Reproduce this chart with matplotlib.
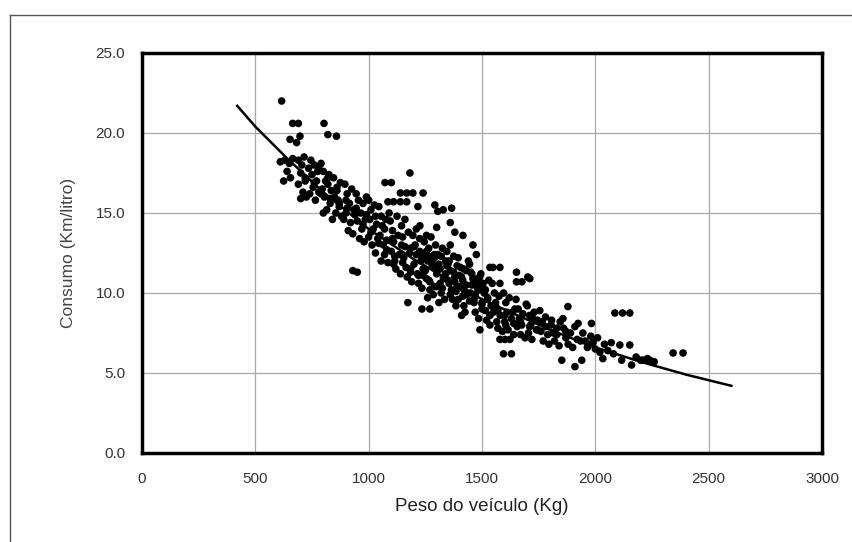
import matplotlib
matplotlib.use('Agg')
import matplotlib.pyplot as plt
from matplotlib.lines import Line2D

plt.rcParams['font.family'] = ['Liberation Sans', 'DejaVu Sans']

# Curva ajustada
curva_peso = [420, 500, 634, 800, 1000, 1200, 1500, 1800, 2000, 2200, 2400, 2600]
curva_consumo = [21.7, 20.4, 18.5, 16.3, 14.0, 12.1, 9.6, 7.7, 6.6, 5.7, 4.9, 4.2]

# Pontos observados (peso em kg, consumo em km/litro)
peso = [
    616, 665, 690, 803, 820, 858, 697, 653, 682,
    1072, 1100, 1182, 1140, 1168, 1195, 1240, 1085, 1110, 1140, 1168,
    1217, 1292, 1305, 1366, 1329, 1360, 1380, 1416, 1300, 1226, 1255,
    930, 950, 1173, 1235, 1270,
    1548, 1579, 1652, 1702, 1579, 1652, 1676, 1711, 1535,
    1879, 1807, 1857, 2086, 2120, 2152, 1924, 1983,
    1579, 1601, 1623, 1595, 1630,
    2108, 2152, 1852, 1910, 1940, 2033, 2116, 2160, 2210, 2240, 2343, 2387, 1491,
    610, 630, 650, 640, 655, 625, 665,
    690, 705, 715, 700, 720, 690, 710, 700, 725, 735,
    745, 760, 750, 770, 755, 740, 765, 780, 775, 790,
    800, 810, 795, 820, 805, 830, 815, 800, 835, 825,
    845, 860, 850, 870, 855, 840, 875, 880, 865,
    895, 905, 915, 900, 920, 910, 890, 925, 935, 930,
    945, 955, 965, 950, 970, 960, 975, 985, 980, 990,
    1000, 1010, 1005, 1020, 1000, 1015, 1030, 1025, 1035, 1040,
    1045, 1055, 1060, 1050, 1065, 1070, 1055, 1075, 1080, 1085, 1090,
    1095, 1105, 1110, 1100, 1115, 1120, 1125, 1130, 1135, 1140, 1110,
    1145, 1150, 1160, 1155, 1165, 1170, 1175, 1180, 1185, 1190, 1160,
    1195, 1205, 1210, 1200, 1215, 1220, 1225, 1230, 1235, 1240, 1210,
    1245, 1255, 1260, 1250, 1265, 1270, 1275, 1280, 1285, 1290, 1260,
    1295, 1305, 1310, 1300, 1315, 1320, 1325, 1330, 1335, 1340, 1310,
    1345, 1355, 1360, 1350, 1365, 1370, 1375, 1380, 1385, 1390, 1360,
    1395, 1405, 1410, 1400, 1415, 1420, 1425, 1430, 1435, 1440, 1410,
    1445, 1455, 1460, 1450, 1465, 1470, 1475, 1480, 1485, 1490, 1460,
    1495, 1505, 1510, 1500, 1515, 1520, 1525, 1530, 1535, 1540,
    1545, 1555, 1560, 1550, 1565, 1570, 1575, 1580, 1590,
    1595, 1605, 1610, 1600, 1615, 1620, 1630, 1640, 1645,
    1650, 1660, 1665, 1655, 1670, 1680, 1690, 1695,
    1700, 1710, 1715, 1705, 1720, 1730, 1740, 1745,
    1755, 1765, 1760, 1770, 1780, 1790, 1795,
    1805, 1815, 1820, 1830, 1840, 1845,
    1860, 1870, 1880, 1890, 1900, 1910, 1920,
    1945, 1955, 1965, 1980, 1990, 2000, 2010, 2020,
    2040, 2055, 2070, 2080,
    2180, 2200, 2230, 2260,
    # nucleo denso
    720, 760, 790, 830, 870, 905, 940, 975, 1010, 1045,
    1080, 1115, 1150, 1185, 1220, 1255, 1290, 1325, 1360, 1395,
    1430, 1465, 1500, 1535, 1570, 1605, 1640, 1675, 1710, 1745,
    780, 820, 860, 900, 945, 990, 1030, 1070, 1105, 1145,
    1185, 1225, 1265, 1300, 1340, 1380, 1420, 1455, 1490, 1525,
    1560, 1600, 1635, 1670, 1725, 1780, 1830, 1870, 1935, 1975,
    1240, 1270, 1300, 1330, 1355, 1385, 1415, 1445, 1470, 1500,
    1250, 1280, 1315, 1345, 1375, 1400, 1430, 1460, 1485, 1515,
    1200, 1230, 1265, 1290, 1320, 1350, 1390, 1420, 1450, 1480,
]
consumo = [
    22.0, 20.6, 20.6, 20.6, 19.9, 19.8, 19.8, 19.6, 19.4,
    16.9, 16.9, 17.5, 16.25, 16.25, 16.25, 16.25, 15.7, 15.7, 15.7, 15.7,
    15.4, 15.5, 15.1, 15.3, 15.2, 14.4, 13.8, 13.6, 14.1, 14.2, 13.6,
    11.4, 11.3, 9.4, 9.0, 9.0,
    11.6, 11.6, 11.3, 11.0, 10.6, 10.7, 10.7, 10.9, 11.6,
    9.15, 8.3, 8.4, 8.75, 8.75, 8.75, 8.1, 8.1,
    7.1, 7.1, 7.1, 6.2, 6.2,
    6.75, 6.75, 5.8, 5.4, 5.8, 5.9, 5.8, 5.5, 5.8, 5.8, 6.25, 6.25, 7.7,
    18.2, 18.3, 18.1, 17.6, 17.2, 17.0, 18.4,
    18.3, 18.0, 18.5, 17.5, 17.2, 16.8, 16.3, 15.9, 16.0, 17.8,
    18.3, 18.0, 17.4, 17.0, 16.6, 16.2, 15.8, 16.3, 17.6, 18.1,
    17.6, 17.0, 16.5, 16.8, 16.0, 15.6, 15.2, 15.0, 16.4, 17.4,
    17.2, 16.6, 16.0, 15.4, 15.0, 14.6, 16.9, 14.8, 15.8,
    16.8, 16.2, 15.6, 15.0, 14.4, 13.9, 14.6, 16.5, 15.2, 13.7,
    16.2, 15.8, 15.0, 14.5, 14.0, 13.4, 15.6, 14.6, 13.2, 16.0,
    15.8, 15.2, 14.6, 14.0, 13.5, 13.0, 12.5, 15.5, 14.3, 13.4,
    15.4, 14.8, 14.2, 13.6, 13.0, 12.4, 12.0, 14.6, 13.3, 11.9, 15.0,
    14.5, 13.9, 13.2, 12.6, 12.0, 11.5, 14.8, 13.6, 12.4, 11.2, 11.8,
    14.2, 13.5, 12.9, 12.2, 11.6, 11.0, 13.8, 12.5, 11.3, 10.7, 14.6,
    13.6, 13.0, 12.4, 11.8, 11.2, 10.6, 13.4, 12.0, 10.3, 11.5, 14.0,
    13.2, 12.6, 12.0, 11.4, 10.8, 10.2, 13.5, 11.7, 9.9, 12.4, 9.7,
    13.0, 12.4, 11.8, 11.2, 10.6, 10.0, 12.8, 11.0, 9.6, 12.0, 9.4,
    12.6, 12.0, 11.4, 10.8, 10.2, 9.6, 12.3, 11.0, 9.2, 10.4, 13.0,
    12.2, 11.6, 11.0, 10.4, 9.8, 9.2, 8.8, 11.4, 10.0, 12.0, 8.6,
    11.8, 11.2, 10.6, 10.0, 9.4, 8.8, 12.4, 10.3, 8.4, 11.0, 13.0,
    11.2, 10.6, 10.0, 9.4, 8.9, 8.3, 9.7, 10.8, 8.0, 9.2,
    10.6, 10.0, 9.4, 8.8, 8.2, 7.8, 9.8, 8.6, 7.6,
    10.0, 9.4, 8.8, 8.2, 7.7, 9.7, 8.4, 7.4, 9.0,
    9.6, 9.0, 8.4, 7.9, 7.4, 8.7, 7.2, 9.3,
    9.2, 8.6, 8.0, 7.5, 7.1, 8.8, 7.7, 8.3,
    8.9, 8.2, 7.6, 7.0, 8.5, 7.4, 6.8,
    8.0, 7.5, 7.0, 7.8, 6.7, 8.2,
    7.8, 7.2, 6.8, 7.5, 6.6, 7.9, 7.1,
    7.5, 7.0, 6.6, 7.3, 6.9, 6.5, 7.2, 6.3,
    6.8, 6.4, 6.9, 6.2,
    6.0, 5.8, 5.9, 5.7,
    # nucleo denso
    17.0, 16.9, 16.2, 15.9, 15.6, 15.3, 14.9, 14.3, 13.8, 13.1,
    12.7, 12.3, 11.9, 11.5, 11.1, 10.9, 10.4, 10.3, 9.9, 9.6,
    9.9, 9.6, 9.0, 8.6, 8.9, 8.0, 8.1, 8.0, 7.9, 7.7,
    17.9, 17.2, 16.4, 15.8, 15.3, 14.9, 14.8, 14.0, 13.4, 13.0,
    12.8, 12.6, 12.3, 11.6, 11.2, 10.7, 10.2, 10.5, 10.2, 9.6,
    9.2, 8.6, 8.8, 8.2, 8.4, 7.9, 7.4, 7.6, 7.0, 6.8,
    11.1, 10.7, 10.4, 10.9, 10.6, 10.1, 10.8, 9.5, 9.9, 9.3,
    12.2, 11.9, 11.5, 11.7, 11.3, 11.1, 10.5, 10.9, 10.5, 10.2,
    12.9, 12.4, 12.8, 12.2, 12.3, 11.8, 11.7, 11.5, 11.3, 10.9,
]

x_ticks = [0, 500, 1000, 1500, 2000, 2500, 3000]
y_ticks = [0, 5, 10, 15, 20, 25]

fig = plt.figure(figsize=(8.52, 5.42), dpi=100)
ax = fig.add_axes([142 / 852, 89 / 542, 680 / 852, 400 / 542])

ax.scatter(peso, consumo, s=30, color='black', edgecolors='none', zorder=3)
ax.plot(curva_peso, curva_consumo, color='black', lw=1.8, zorder=4)

ax.set_xlim(0, 3000)
ax.set_ylim(0, 25)
ax.set_xticks(x_ticks)
ax.set_yticks(y_ticks)
ax.set_yticklabels([f'{v:.1f}' for v in y_ticks])
ax.grid(True, color='#a8a8a8', lw=0.9)
ax.set_axisbelow(True)
for s in ax.spines.values():
    s.set_linewidth(2.5)
    s.set_color('black')
ax.tick_params(length=0, labelsize=11, colors='#333333')
ax.tick_params(axis='x', pad=14)
ax.tick_params(axis='y', pad=12)

ax.set_xlabel('Peso do veículo (Kg)', fontsize=13.5, color='#222222', labelpad=8)
ax.set_ylabel('Consumo (Km/litro)', fontsize=12.5, color='#444444', labelpad=14)

# moldura externa
fig.add_artist(Line2D([10 / 852, 1.0], [1 - 15 / 542, 1 - 15 / 542], color='#555555', lw=1))
fig.add_artist(Line2D([10 / 852, 10 / 852], [0, 1 - 15 / 542], color='#555555', lw=1))

fig.savefig('out.png', dpi=100)
